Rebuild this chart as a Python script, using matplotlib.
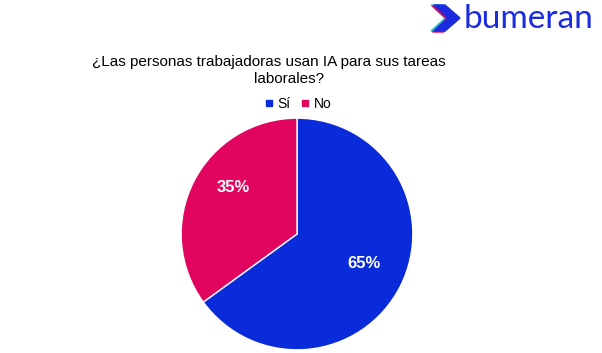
import numpy as np
import matplotlib.pyplot as plt
from matplotlib.patches import Polygon
from matplotlib.lines import Line2D

plt.rcParams['font.family'] = ['Liberation Sans', 'DejaVu Sans']

labels = ['Sí', 'No']
values = [65, 35]
colors = ['#0A2BD9', '#E1055F']
title_lines = ['¿Las personas trabajadoras usan IA para sus tareas', 'laborales?']

fig = plt.figure(figsize=(6.02, 3.53), dpi=100)
fig.patch.set_facecolor('white')

# pie
ax = fig.add_axes([180 / 602, 2 / 353, 234 / 602, 234 / 353])
wedges, texts, autotexts = ax.pie(values, colors=colors, startangle=90, counterclock=False,
                                  autopct='%1.0f%%', pctdistance=0.65,
                                  wedgeprops=dict(edgecolor='white', linewidth=1),
                                  textprops=dict(color='white', fontsize=12, fontweight='bold'))
# labels sit a little off the slice middle in the original
for w, t, shift, dist in zip(wedges, autotexts, [3, -9], [0.63, 0.68]):
    ang = np.deg2rad((w.theta1 + w.theta2) / 2 + shift)
    t.set_position((dist * np.cos(ang), dist * np.sin(ang)))
ax.set_xlim(-1.01, 1.01)
ax.set_ylim(-1.01, 1.01)
ax.set_aspect('equal')

# title, second line is not centred under the first in the original
fig.text(269 / 602, 1 - 62 / 353, title_lines[0], ha='center', va='center', fontsize=11)
fig.text(289 / 602, 1 - 79 / 353, title_lines[1], ha='center', va='center', fontsize=11)

handles = [Line2D([], [], marker='s', linestyle='none', markersize=5, color=c) for c in colors]
fig.legend(handles, labels, loc='center', bbox_to_anchor=(298 / 602, 1 - 104 / 353), ncol=2,
           frameon=False, fontsize=10, handlelength=0.6, handletextpad=0.3, columnspacing=0.8)

# logo
def chevron(dx, dy, color):
    pts = [(434, 5), (445, 5), (460, 18), (445, 31), (434, 31), (448, 18)]
    pts = [((x + dx) / 602, 1 - (y + dy) / 353) for x, y in pts]
    fig.patches.append(Polygon(pts, closed=True, transform=fig.transFigure, color=color, zorder=3))

chevron(-3, 0, '#2EC6D6')
chevron(-1.5, 1, '#E1055F')
chevron(0, 0, '#1B2CE0')
fig.text(464 / 602, 1 - 19 / 353, 'bumeran', ha='left', va='center', fontsize=24,
         color='#1B2CE0', family=['Lato', 'DejaVu Sans'])

fig.savefig('out.png', dpi=100, facecolor='white')
